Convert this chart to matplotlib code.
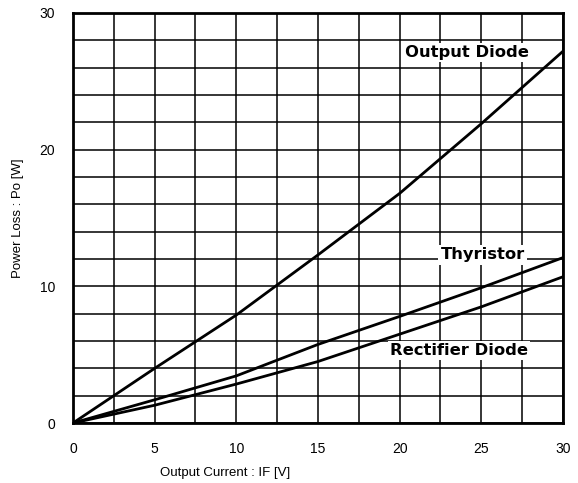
import numpy as np
import matplotlib
matplotlib.use("Agg")
import matplotlib.pyplot as plt
matplotlib.rcParams['font.family'] = ['Liberation Sans', 'DejaVu Sans']

current = [0, 5, 10, 15, 20, 25, 30]
output_diode = [0, 4.0, 7.9, 12.3, 16.8, 21.9, 27.2]
thyristor = [0, 1.7, 3.45, 5.75, 7.8, 9.9, 12.1]
rectifier_diode = [0, 1.3, 2.85, 4.5, 6.5, 8.5, 10.7]

labels = ['Output Diode', 'Thyristor', 'Rectifier Diode']
label_pos = [(20.3, 27.1), (22.5, 12.3), (19.4, 5.3)]

fig = plt.figure(figsize=(5.78, 4.83), dpi=100)
ax = fig.add_axes([0.1263, 0.1242, 0.8477, 0.8489])

ax.plot(current, output_diode, color='black', lw=2)
ax.plot(current, thyristor, color='black', lw=2)
ax.plot(current, rectifier_diode, color='black', lw=2)

for txt, (x, y) in zip(labels, label_pos):
    ax.text(x, y, txt, fontsize=11.8, fontweight='bold', va='center', ha='left',
            family='DejaVu Sans',
            bbox=dict(facecolor='white', edgecolor='none', pad=1.5), zorder=5)

ax.set_xlim(0, 30)
ax.set_ylim(0, 30)
ax.set_xticks(np.arange(0, 31, 5))
ax.set_yticks([0, 10, 20, 30])
ax.set_xticks(np.arange(0, 30.1, 2.5), minor=True)
ax.set_yticks(np.arange(0, 30.1, 2), minor=True)
ax.grid(True, which='both', color='black', lw=1.1)
ax.tick_params(which='both', length=0, labelsize=10, pad=14)
ax.tick_params(axis='y', pad=13)
for s in ax.spines.values():
    s.set_linewidth(2)

ax.set_xlabel('Output Current : IF [V]', fontsize=9.5)
ax.set_ylabel('Power Loss : Po [W]', fontsize=9.5)
ax.xaxis.set_label_coords(0.31, -0.107)
ax.yaxis.set_label_coords(-0.1, 0.5)

fig.savefig('out.png', dpi=100)
